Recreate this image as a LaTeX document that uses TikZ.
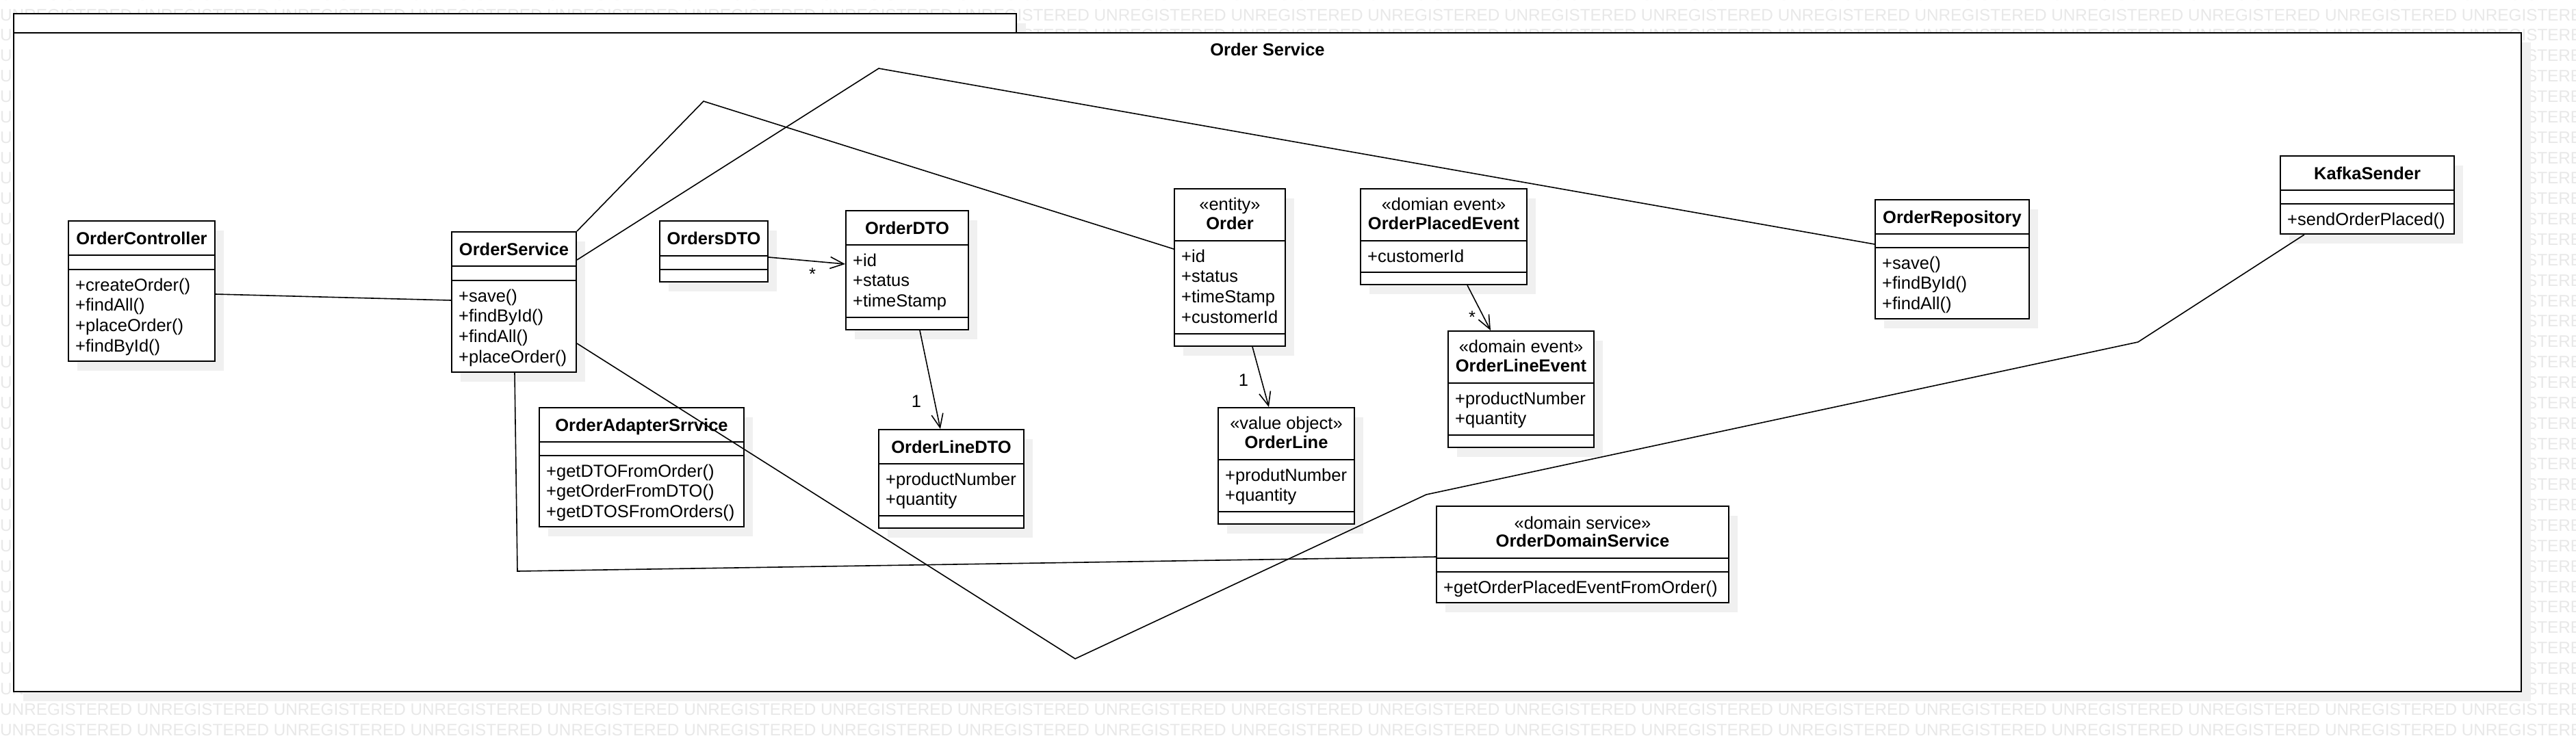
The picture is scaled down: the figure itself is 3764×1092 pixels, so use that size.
\documentclass[tikz,border=0pt]{standalone}
\usepackage{fontspec}
\setmainfont{Liberation Sans}
\usetikzlibrary{arrows.meta,fit}
\definecolor{shadowc}{RGB}{240,240,240}
\definecolor{wmc}{RGB}{232,232,232}
\newcommand{\cfont}{\fontsize{25.5}{29.8}\selectfont}
\newcommand{\wmrow}{UNREGISTERED UNREGISTERED UNREGISTERED UNREGISTERED UNREGISTERED UNREGISTERED UNREGISTERED UNREGISTERED UNREGISTERED UNREGISTERED UNREGISTERED UNREGISTERED UNREGISTERED UNREGISTERED UNREGISTERED UNREGISTERED UNREGISTERED UNREGISTERED UNREGISTERED}
\tikzset{
  clsnode/.style={draw, line width=2pt, fill=white, inner sep=0pt, rectangle},
  boxline/.style={line width=2pt},
  conn/.style={line width=1.6pt},
  nav/.style={conn, -{Straight Barb[length=20pt,width=17pt]}},
  mem/.style={inner sep=0pt, anchor=base west, font=\cfont},
  cname/.style={inner sep=0pt, anchor=base, font=\cfont\bfseries},
  stereo/.style={inner sep=0pt, anchor=base, font=\cfont},
  mult/.style={inner sep=0pt, font=\cfont},
  wm/.style={inner sep=0pt, anchor=base west, text=wmc, font=\fontsize{24.3}{24.3}\selectfont},
  pkg/.style={draw, line width=2.2pt, fill=white, inner sep=0pt, rectangle},
}
% #1 name, #2 x1, #3 y1, #4 x2, #5 y2, #6 header bottom, #7 attribute bottom
\newcommand{\clsbox}[7]{%
  \fill[shadowc] (#2+13,#3+14) rectangle (#4+13,#5+14);
  \node[clsnode, fit={(#2,#3)(#4,#5)}] (#1) {};
  \draw[boxline] (#2,#6) -- (#4,#6);
  \draw[boxline] (#2,#7) -- (#4,#7);
}
% #1 prefix, #2 x, #3 first baseline, #4 list
\newcommand{\members}[4]{%
  \foreach \t [count=\i] in {#4} {
    \node[mem] (#1-m\i) at (#2, #3+29.8*\i-29.8) {\t};
  }
}
\begin{document}
\begin{tikzpicture}[x=1pt, y=-1pt]
\useasboundingbox (0,0) rectangle (3764,1092);
\fill[white] (0,0) rectangle (3764,1092);

% watermark (only in the margins that stay visible)
\foreach \k in {-1,0,1,33,34,35} {
  \node[wm] (wm\k) at (0, 30+29.86*\k) {\wmrow};
}
\foreach \k in {2,...,32} {
  \node[wm] (wml\k) at (0, 30+29.86*\k) {U};
  \node[wm] (wmr\k) at (3596.4, 30+29.86*\k) {UNREGISTERED};
}

% package frame
\fill[shadowc] (34,34) rectangle (1499,62);
\fill[shadowc] (34,62) rectangle (3698,1025);
\node[pkg, fit={(20,20)(1485,48)}] (tab) {};
\node[pkg, fit={(20,48)(3684,1011)}] (frame) {};
\node[inner sep=0pt, font=\cfont\bfseries] (title) at (1852,72) {Order Service};

% classes
\clsbox{oc}{100}{323}{314}{528}{373}{394}
\node[cname] (oc-n) at (207,357) {OrderController};
\members{oc}{110}{425}{+createOrder(),+findAll(),+placeOrder(),+findById()}

\clsbox{os}{660}{339}{842}{544}{389}{410}
\node[cname] (os-n) at (751,373) {OrderService};
\members{os}{670}{441}{+save(),+findById(),+findAll(),+placeOrder()}

\clsbox{odto}{964}{323}{1122}{412}{374}{394}
\node[cname] (odto-n) at (1043,357.5) {OrdersDTO};

\clsbox{dto}{1236}{308}{1415}{482}{358}{464}
\node[cname] (dto-n) at (1325.5,342) {OrderDTO};
\members{dto}{1246}{389}{+id,+status,+timeStamp}

\clsbox{oas}{788}{596}{1087}{770}{646}{666}
\node[cname] (oas-n) at (937.5,630) {OrderAdapterSrrvice};
\members{oas}{798}{697}{+getDTOFromOrder(),+getOrderFromDTO(),+getDTOSFromOrders()}

\clsbox{oldto}{1284}{628}{1496}{772}{678}{754}
\node[cname] (oldto-n) at (1390,662) {OrderLineDTO};
\members{oldto}{1294}{709}{+productNumber,+quantity}

\clsbox{ord}{1716}{276}{1878}{506}{352}{488}
\node[stereo] (ord-s) at (1797,307) {«entity»};
\node[cname] (ord-n) at (1797,335) {Order};
\members{ord}{1726}{383}{+id,+status,+timeStamp,+customerId}

\clsbox{ol}{1780}{596}{1979}{766}{672}{748}
\node[stereo] (ol-s) at (1879.5,627) {«value object»};
\node[cname] (ol-n) at (1879.5,655) {OrderLine};
\members{ol}{1790}{703}{+produtNumber,+quantity}

\clsbox{ope}{1988}{276}{2231}{416}{352}{398}
\node[stereo] (ope-s) at (2109.5,307) {«domian event»};
\node[cname] (ope-n) at (2109.5,335) {OrderPlacedEvent};
\members{ope}{1998}{383}{+customerId}

\clsbox{ole}{2116}{484}{2329}{654}{560}{636}
\node[stereo] (ole-s) at (2222.5,515) {«domain event»};
\node[cname] (ole-n) at (2222.5,543) {OrderLineEvent};
\members{ole}{2126}{591}{+productNumber,+quantity}

\clsbox{ods}{2099}{740}{2526}{881}{816}{836}
\node[stereo] (ods-s) at (2312.5,773) {«domain service»};
\node[cname] (ods-n) at (2312.5,799) {OrderDomainService};
\members{ods}{2109}{867}{+getOrderPlacedEventFromOrder()}

\clsbox{orep}{2740}{292}{2965}{466}{342}{362}
\node[cname] (orep-n) at (2852.5,326) {OrderRepository};
\members{orep}{2750}{393}{+save(),+findById(),+findAll()}

\clsbox{ks}{3332}{228}{3586}{342}{278}{298}
\node[cname] (ks-n) at (3459,262) {KafkaSender};
\members{ks}{3342}{329}{+sendOrderPlaced()}

% connectors
\draw[conn] ([yshift=-4.5pt]oc.east) -- ([yshift=2.5pt]os.west);
\draw[conn] (os.north east) -- (1028,148) -- ([yshift=27pt]ord.west);
\draw[conn] ([yshift=61.5pt]os.east) -- (1284,100) -- ([yshift=22pt]orep.west);
\draw[conn] ([yshift=-60.5pt]os.east) -- (1571,963) -- (2084,723) -- (3124,500) -- ([xshift=-92pt]ks.south);
\draw[conn] ([xshift=1pt]os.south) -- (756,835) -- ([yshift=-3.5pt]ods.west);

\draw[nav] ([yshift=-8.5pt]odto.east) -- ([yshift=9pt]dto.west);
\node[mult] (m-odto) at (1187,401) {*};
\draw[nav] ([xshift=18.5pt]dto.south) -- ([xshift=-16pt]oldto.north);
\node[mult] (m-dto) at (1339,587) {1};
\draw[nav] ([xshift=33pt]ord.south) -- ([xshift=-25.5pt]ol.north);
\node[mult] (m-ord) at (1817,556) {1};
\draw[nav] ([xshift=34.5pt]ope.south) -- ([xshift=-44.5pt]ole.north);
\node[mult] (m-ope) at (2151,464) {*};
\end{tikzpicture}
\end{document}
